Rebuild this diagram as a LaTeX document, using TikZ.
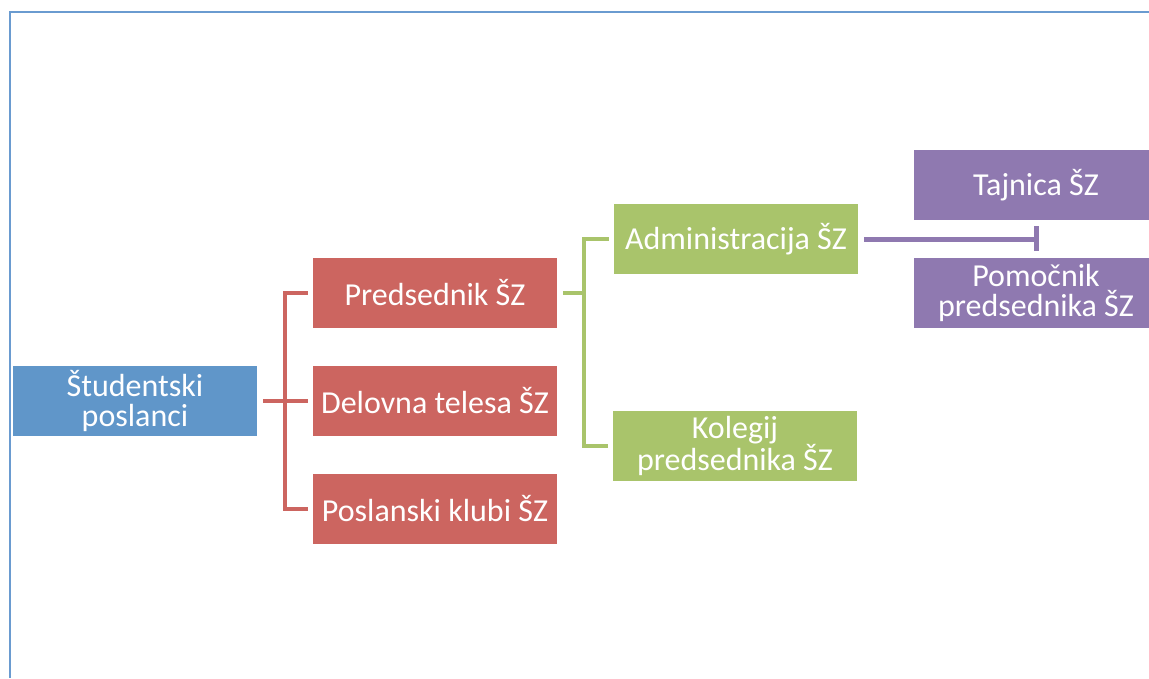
\documentclass[tikz,border=0pt]{standalone}
\usepackage{fontspec}
\setmainfont{Carlito}
\definecolor{cblue}{HTML}{6096C9}
\definecolor{cred}{HTML}{CC6560}
\definecolor{cgreen}{HTML}{A9C46B}
\definecolor{cpurple}{HTML}{8F79B0}
\definecolor{cframe}{HTML}{6A9BD0}
\begin{document}
\begin{tikzpicture}[x=1pt,y=-1pt,
  box/.style={rectangle, minimum width=244pt, minimum height=70pt, inner sep=0pt,
    text=white, align=center, font=\fontsize{32}{30}\selectfont},
  bluebox/.style={box, fill=cblue},
  redbox/.style={box, fill=cred},
  greenbox/.style={box, fill=cgreen},
  purplebox/.style={box, fill=cpurple},
  redline/.style={draw=cred, line width=4.5pt},
  greenline/.style={draw=cgreen, line width=4.5pt},
  purpleline/.style={draw=cpurple, line width=5pt},
]
\useasboundingbox (0,0) rectangle (1149,678);
\begin{scope}
\clip (0,0) rectangle (1149,678);
\draw[cframe, line width=2pt] (1149,11.5) -- (9.5,11.5) -- (9.5,678);

\node[bluebox] (stud) at (135,401) {Študentski\\poslanci};
\node[redbox] (pred) at (435,293) {Predsednik ŠZ};
\node[redbox] (del) at (435,401) {Delovna telesa ŠZ};
\node[redbox] (posl) at (435,509) {Poslanski klubi ŠZ};
\node[greenbox] (adm) at (736,239) {Administracija ŠZ};
\node[greenbox] (kol) at (735,446) {Kolegij\\predsednika ŠZ};
\node[purplebox] (taj) at (1036,185) {Tajnica ŠZ};
\node[purplebox] (pom) at (1036,293) {Pomočnik\\predsednika ŠZ};

\coordinate (rj) at (285,401);
\draw[redline] ([xshift=6pt]stud.east) -- (rj);
\draw[redline] ([xshift=-5pt]pred.west) -| (rj) |- ([xshift=-5pt]posl.west);
\draw[redline] (rj) -- ([xshift=-5pt]del.west);

\coordinate (gj) at (584,293);
\draw[greenline] ([xshift=6pt]pred.east) -- (gj);
\draw[greenline] ([xshift=-5pt]adm.west) -| (gj) |- ([xshift=-5pt]kol.west);

\coordinate (pj) at (1036,239);
\draw[purpleline] ([xshift=6pt]adm.east) -- (pj);
\draw[purpleline] ([yshift=-12pt]pj) -- ([yshift=13pt]pj);
\end{scope}
\end{tikzpicture}
\end{document}
